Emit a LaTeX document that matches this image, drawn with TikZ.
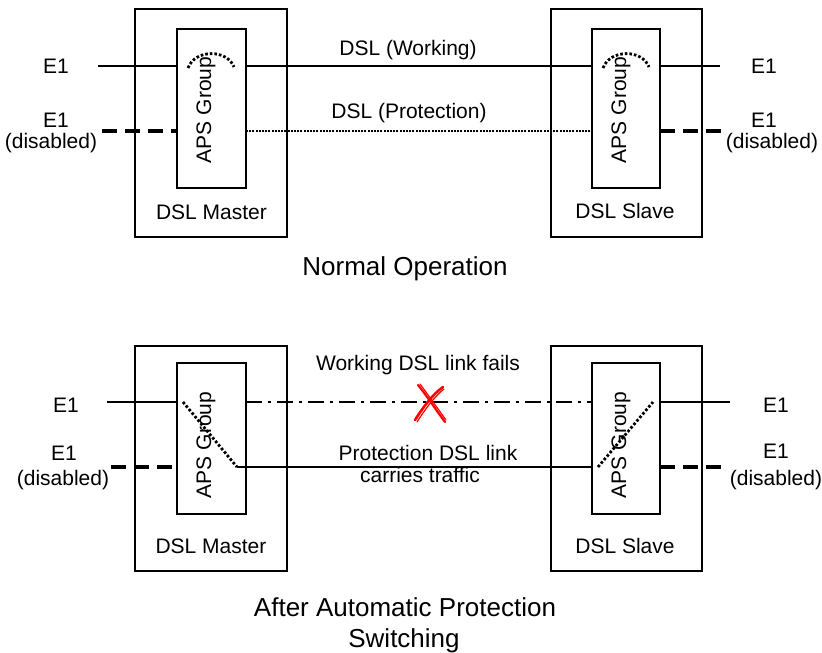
\documentclass[tikz,border=0pt]{standalone}
\usepackage{fontspec}
\setmainfont{Liberation Sans}
\begin{document}
\begin{tikzpicture}[x=1pt,y=-1pt,
  box/.style={draw,line width=1.3pt,inner sep=0pt,outer sep=0pt},
  lbl/.style={anchor=base,inner sep=0pt,font=\fontsize{21}{24}\selectfont},
  ttl/.style={anchor=base,inner sep=0pt,font=\fontsize{26}{31}\selectfont},
  aps/.style={inner sep=0pt,rotate=90,font=\fontsize{21}{24}\selectfont},
  sol/.style={line width=1.3pt},
  dis/.style={line width=3.2pt,dash pattern=on 15pt off 8pt},
  dotl/.style={line width=2.2pt,dash pattern=on 2pt off 1.2pt},
  dotb/.style={line width=2.8pt,dash pattern=on 2.6pt off 2pt},
  dashdot/.style={line width=2.5pt,dash pattern=on 16pt off 6pt on 3pt off 6pt}]
\useasboundingbox (0,0) rectangle (822,653);

% ---------- Top: Normal Operation ----------
\node[box,minimum width=152pt,minimum height=228pt] (m1) at (211,123) {};
\node[box,minimum width=69pt,minimum height=159pt] (ma1) at (211.5,108.5) {};
\node[box,minimum width=151pt,minimum height=228pt] (s1) at (626.5,123) {};
\node[box,minimum width=68pt,minimum height=159pt] (sa1) at (626,108.5) {};
\node[aps] (mt1) at (206,110) {APS Group};
\node[aps] (st1) at (621,110) {APS Group};
\node[lbl] (mn1) at (211.5,219) {DSL Master};
\node[lbl] (sn1) at (625,218) {DSL Slave};

\coordinate (le1) at (98,66);
\coordinate (ld1) at (102,131);
\coordinate (re1) at (720,66);
\coordinate (rd1) at (722,131);
\draw[sol] (le1) -- (le1 -| ma1.west);
\draw[sol] (ma1.east |- le1) -- (sa1.west |- le1);
\draw[sol] (sa1.east |- le1) -- (re1);
\draw[dis] (ld1) -- (ld1 -| ma1.west);
\draw[dotl] (ma1.east |- ld1) -- (sa1.west |- ld1);
\draw[dis] (sa1.east |- rd1) -- (rd1);

% dotted arcs
\draw[dotb] (188,68) .. controls (195,49) and (227,49) .. (234,67);
\draw[dotb] (603,68) .. controls (610,49) and (642,49) .. (649,67);

\node[lbl] (e1l) at (56,73) {E1};
\node[lbl] (e2l) at (56,127) {E1};
\node[lbl] (dl) at (51,148) {(disabled)};
\node[lbl] (e1r) at (764,73) {E1};
\node[lbl] (e2r) at (764,127) {E1};
\node[lbl] (dr) at (772,148) {(disabled)};
\node[lbl] (w1) at (408,55) {DSL (Working)};
\node[lbl] (p1) at (409,118) {DSL (Protection)};
\node[ttl] (t1) at (405,275) {Normal Operation};

% ---------- Bottom: After APS ----------
\node[box,minimum width=152pt,minimum height=225pt] (m2) at (211,458.5) {};
\node[box,minimum width=69pt,minimum height=151pt] (ma2) at (211.5,438.5) {};
\node[box,minimum width=151pt,minimum height=225pt] (s2) at (626.5,458.5) {};
\node[box,minimum width=68pt,minimum height=151pt] (sa2) at (626,438.5) {};
\node[aps] (mt2) at (206,445) {APS Group};
\node[aps] (st2) at (621,445) {APS Group};
\node[lbl] (mn2) at (211,553) {DSL Master};
\node[lbl] (sn2) at (625,553) {DSL Slave};

\coordinate (le2) at (107,402);
\coordinate (ld2) at (111,467);
\coordinate (re2) at (730,402);
\coordinate (rd2) at (727,467);
\coordinate (md1) at (183,402);
\coordinate (md2) at (237,467);
\coordinate (sd1) at (598,467);
\coordinate (sd2) at (653,402);
\draw[sol] (le2) -- (le2 -| ma2.west);
\draw[dashdot] (ma2.east |- le2) -- (sa2.west |- le2);
\draw[sol] (sa2.east |- re2) -- (re2);
\draw[dis] (ld2) -- (ld2 -| ma2.west);
\draw[sol] (md2) -- (sa2.west |- md2);
\draw[dis] (sa2.east |- rd2) -- (rd2);
\draw[dotb] (md1) -- (md2);
\draw[dotb] (sd1) -- (sd2);

% red cross
\draw[red,line width=2.2pt,line cap=round] (418,385) .. controls (427,396) and (436,410) .. (445,422);
\draw[red,line width=1.2pt,line cap=round] (420,384) .. controls (429,396) and (438,409) .. (446,420);
\draw[red,line width=2.6pt,line cap=round] (415,420) .. controls (424,406) and (433,394) .. (443,387);
\draw[red,line width=1.2pt,line cap=round] (417,422) .. controls (426,408) and (435,396) .. (444,389);

\node[lbl] (e1l2) at (66,412) {E1};
\node[lbl] (e2l2) at (64,460) {E1};
\node[lbl] (dl2) at (63,485) {(disabled)};
\node[lbl] (e1r2) at (776,412) {E1};
\node[lbl] (e2r2) at (776,458) {E1};
\node[lbl] (dr2) at (776,485) {(disabled)};
\node[lbl] (w2) at (418,370) {Working DSL link fails};
\node[lbl] (p2) at (428,460) {Protection DSL link};
\node[lbl] (c2) at (420,482) {carries traffic};
\node[ttl] (t2) at (405,616) {After Automatic Protection};
\node[ttl] (t3) at (404,647) {Switching};
\end{tikzpicture}
\end{document}
